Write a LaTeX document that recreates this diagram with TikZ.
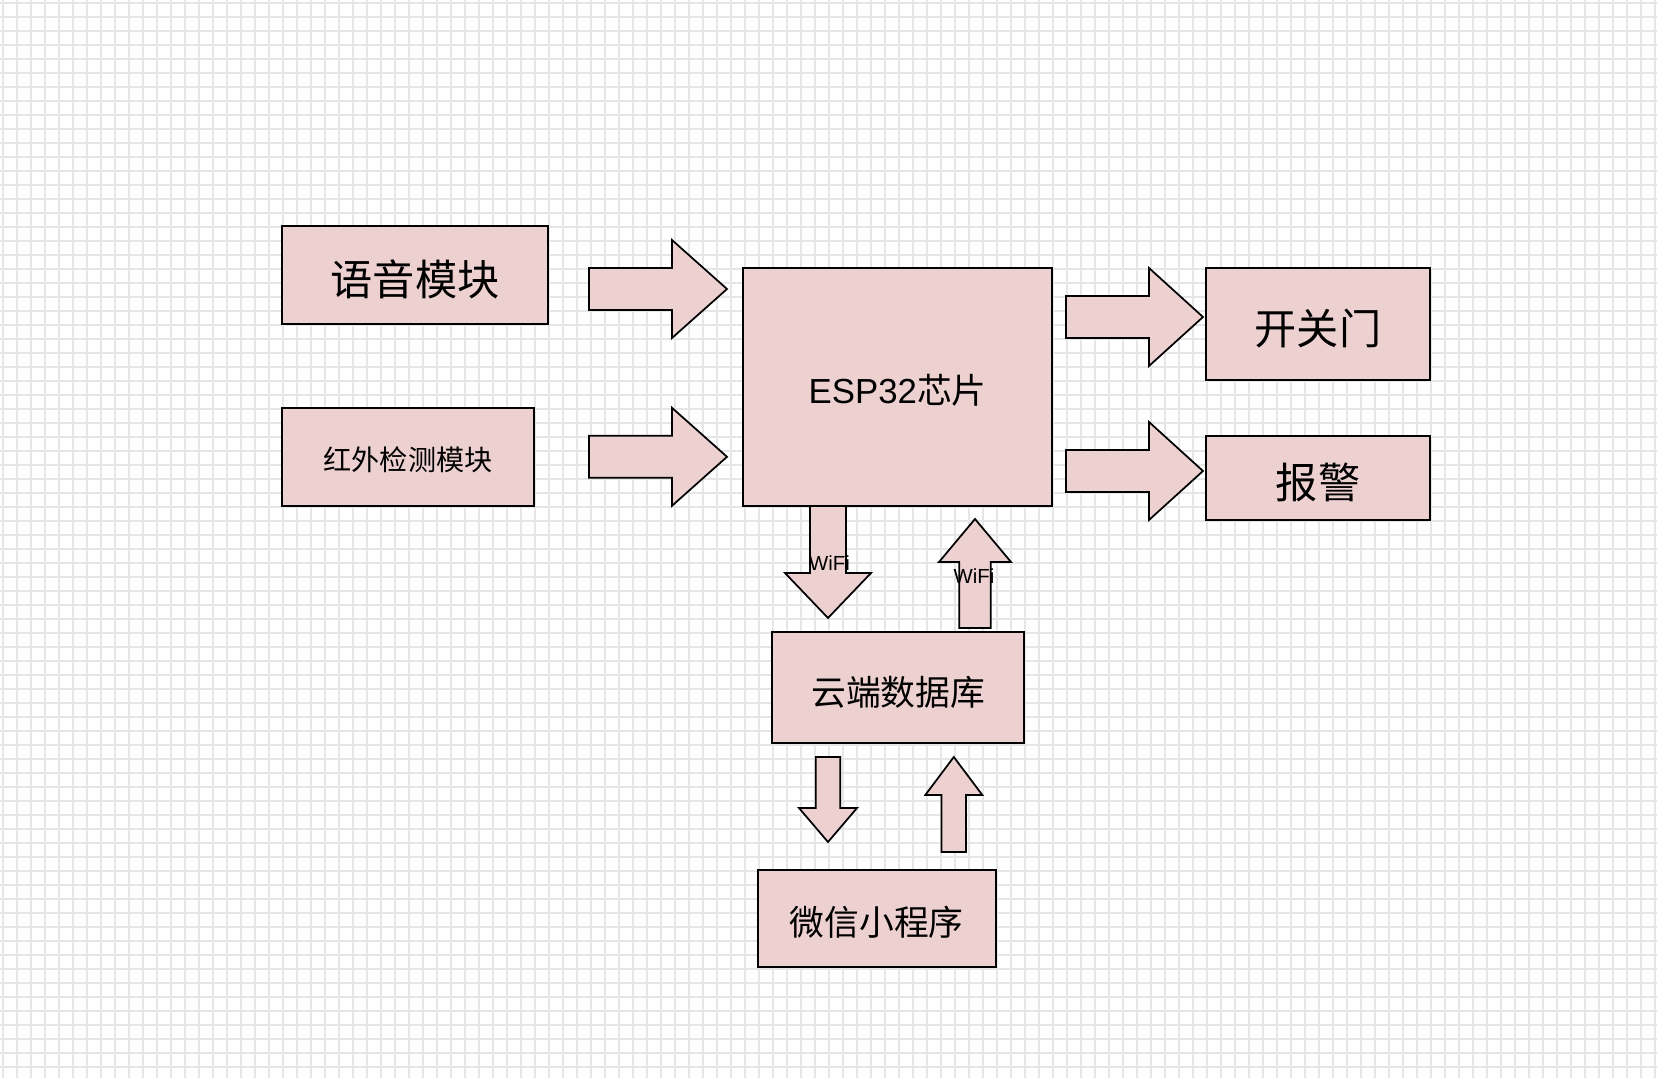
\documentclass[tikz,border=0pt]{standalone}
\usepackage{fontspec}
\setmainfont{Liberation Sans}
\newfontfamily\cjk{Noto Sans CJK SC}
\usepackage{xcolor}
\definecolor{boxpink}{RGB}{237, 209, 208}
\definecolor{gridgray}{RGB}{230, 230, 230}

\tikzset{
    box/.style={draw=black, line width=0.4mm, fill=boxpink, inner sep=0pt},
    fatarrow/.style={draw=black, line width=0.35mm, fill=boxpink, line join=miter},
    gridline/.style={gridgray, line width=0.35mm},
    bigtext/.style={font=\cjk\fontsize{24}{28}\selectfont, text height=23.8pt, text depth=0pt},
    midtext/.style={font=\cjk\fontsize{19.8}{24}\selectfont, text height=19.6pt, text depth=0pt},
    smalltext/.style={font=\cjk\fontsize{16}{20}\selectfont, text height=15.8pt, text depth=0pt},
    wifitext/.style={font=\fontsize{11.6}{14}\selectfont, inner sep=0pt}
}

\begin{document}
\begin{tikzpicture}[x=0.2mm, y=-0.2mm]

    \def\px{0.2mm}
    \def\ws{21}
    \def\wh{49}

    \useasboundingbox (0,0) rectangle (1657,1078);
    \fill[white] (0,0) rectangle (1657,1078);

    % ==========================================================
    % grid
    % ==========================================================
    \foreach \i in {0,...,118}
        \draw[gridline] (3.3+\i*14,0) -- (3.3+\i*14,1078);
    \foreach \j in {0,...,76}
        \draw[gridline] (0,3.3+\j*14) -- (1657,3.3+\j*14);

    % ==========================================================
    % block arrows
    % ==========================================================
    % into and out of the chip
    \foreach \xa/\xb/\xt/\yc in {589/672/727/289, 589/672/727/456.8,
                                 1066/1149/1203/317, 1066/1149/1203/471} {
        \draw[fatarrow] (\xa,\yc-\ws) -- (\xb,\yc-\ws) -- (\xb,\yc-\wh) -- (\xt,\yc)
            -- (\xb,\yc+\wh) -- (\xb,\yc+\ws) -- (\xa,\yc+\ws) -- cycle;
    }

    % chip <-> cloud <-> mini program
    \foreach \xc/\ya/\yb/\yt/\sw/\hw in {828/506/573/618/18/43, 975/628/562/519/15.7/36,
                                         828/757/808/842/12.2/29, 953.8/852/795/757/12.2/28.5} {
        \draw[fatarrow] (\xc-\sw,\ya) -- (\xc-\sw,\yb) -- (\xc-\hw,\yb) -- (\xc,\yt)
            -- (\xc+\hw,\yb) -- (\xc+\sw,\yb) -- (\xc+\sw,\ya) -- cycle;
    }

    % ==========================================================
    % blocks
    % ==========================================================
    \node[box, bigtext, minimum width=266*\px, minimum height=98*\px] (voice) at (415,275) {语音模块};
    \node[box, smalltext, minimum width=252*\px, minimum height=98*\px] (infrared) at (408,457) {红外检测模块};
    \node[box, midtext, minimum width=309*\px, minimum height=238*\px] (esp) at (897.7,386.7)
        {\fontspec{Liberation Sans}ESP32\cjk 芯片};
    \node[box, bigtext, minimum width=224*\px, minimum height=112*\px] (door) at (1318,323.5) {开关门};
    \node[box, bigtext, minimum width=224*\px, minimum height=84*\px] (alarm) at (1318,477.5) {报警};
    \node[box, midtext, minimum width=252*\px, minimum height=111*\px] (cloud) at (898.3,687.8) {云端数据库};
    \node[box, midtext, minimum width=238*\px, minimum height=97*\px] (wechat) at (876.8,918.7) {微信小程序};

    % labels on the WiFi links
    \node[wifitext] (wifidown) at (829.5,563) {WiFi};
    \node[wifitext] (wifiup) at (974,576) {WiFi};

\end{tikzpicture}
\end{document}
